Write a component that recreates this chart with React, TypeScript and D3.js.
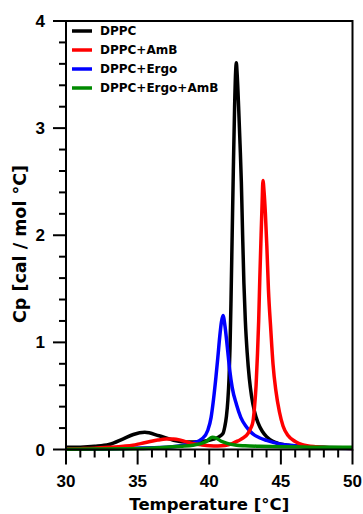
import React from "react";
import * as d3 from "d3";

// ---- data ----
const dppcT = [30, 31, 32, 33, 34, 34.7, 35.5, 36.5, 37.5, 38.5, 39.5, 40.3, 40.7, 40.96, 41.08, 41.2, 41.3, 41.38, 41.45, 41.52, 41.6, 41.68, 41.77, 41.84, 41.89, 41.95, 42.05, 42.15, 42.24, 42.33, 42.42, 42.52, 42.65, 42.8, 42.95, 43.15, 43.4, 43.7, 44.0, 44.4, 44.8, 45.5, 46.5, 48, 50];
const dppcCp = [0.02, 0.022, 0.03, 0.047, 0.1, 0.14, 0.16, 0.128, 0.087, 0.07, 0.075, 0.096, 0.12, 0.15, 0.21, 0.31, 0.46, 0.66, 0.95, 1.4, 2.0, 2.6, 3.2, 3.52, 3.61, 3.5, 3.2, 2.85, 2.5, 2.0, 1.55, 1.2, 0.9, 0.66, 0.5, 0.36, 0.25, 0.17, 0.12, 0.08, 0.058, 0.04, 0.028, 0.02, 0.015];

const ambT = [30, 31, 32, 33, 34, 34.67, 35.2, 35.8, 36.4, 37.0, 37.5, 37.93, 38.4, 38.86, 39.5, 40.03, 40.6, 41.1, 41.6, 42.0, 42.4, 42.7, 42.9, 43.05, 43.15, 43.27, 43.37, 43.45, 43.53, 43.62, 43.69, 43.75, 43.83, 43.92, 44.02, 44.13, 44.3, 44.45, 44.65, 44.9, 45.15, 45.5, 46.0, 46.5, 47.5, 48.5, 50];
const ambCp = [0.005, 0.008, 0.012, 0.02, 0.03, 0.04, 0.055, 0.072, 0.088, 0.097, 0.097, 0.09, 0.072, 0.055, 0.042, 0.035, 0.033, 0.037, 0.055, 0.08, 0.11, 0.15, 0.2, 0.26, 0.38, 0.6, 0.9, 1.2, 1.6, 2.0, 2.3, 2.51, 2.4, 2.2, 1.9, 1.5, 1.11, 0.8, 0.55, 0.35, 0.22, 0.13, 0.075, 0.045, 0.025, 0.016, 0.01];

const ergoT = [30, 32, 34, 36.5, 38, 38.8, 39.5, 39.9, 40.13, 40.3, 40.47, 40.6, 40.73, 40.85, 40.96, 41.1, 41.25, 41.43, 41.6, 41.9, 42.2, 42.6, 43.0, 43.5, 44.0, 45.0, 45.8, 47, 50];
const ergoCp = [0.003, 0.005, 0.01, 0.018, 0.035, 0.058, 0.1, 0.18, 0.3, 0.47, 0.68, 0.86, 1.05, 1.19, 1.25, 1.15, 0.97, 0.74, 0.58, 0.42, 0.3, 0.21, 0.15, 0.11, 0.085, 0.05, 0.038, 0.024, 0.01];

const ergoAmbT = [30, 32, 34.2, 36.5, 38, 38.86, 39.4, 39.8, 40.2, 40.5, 40.8, 41.2, 41.9, 42.5, 43.5, 45, 47, 50];
const ergoAmbCp = [0.003, 0.004, 0.006, 0.016, 0.03, 0.04, 0.055, 0.075, 0.115, 0.105, 0.08, 0.06, 0.04, 0.035, 0.03, 0.025, 0.022, 0.02];

const seriesNames = ["DPPC", "DPPC+AmB", "DPPC+Ergo", "DPPC+Ergo+AmB"];
const seriesColors = ["#000000", "#ff0000", "#0000ff", "#008a00"];

const xTickLabels = [30, 35, 40, 45, 50];
const yTickLabels = [0, 1, 2, 3, 4];

const W = 363;
const H = 514;
const L = 66, R = 352.5, T = 21, B = 449.5;

export default function App() {
  const x = d3.scaleLinear().domain([30, 50]).range([L, R]);
  const y = d3.scaleLinear().domain([0, 4]).range([B, T]);
  const line = d3
    .line<[number, number]>()
    .x((d) => x(d[0]))
    .y((d) => y(d[1]))
    .curve(d3.curveMonotoneX);

  const series = [
    { name: seriesNames[0], color: seriesColors[0], t: dppcT, v: dppcCp },
    { name: seriesNames[1], color: seriesColors[1], t: ambT, v: ambCp },
    { name: seriesNames[2], color: seriesColors[2], t: ergoT, v: ergoCp },
    { name: seriesNames[3], color: seriesColors[3], t: ergoAmbT, v: ergoAmbCp },
  ];
  const drawOrder = [0, 2, 1, 3];

  const xMinor = d3.range(30, 50.001, 1).filter((v) => !xTickLabels.includes(v));
  const yMinor = d3.range(0, 4.001, 0.2).map((v) => +v.toFixed(1)).filter((v) => !yTickLabels.includes(v));

  const tickFont = "'Liberation Sans', Arial, sans-serif";
  const textFont = "'DejaVu Sans', sans-serif";

  return (
    <svg width={W} height={H} style={{ position: "absolute", left: 0, top: 0, background: "#fff" }}>
      {/* curves */}
      {drawOrder.map((i) => {
        const s = series[i];
        const pts = s.t.map((t, k) => [t, s.v[k]] as [number, number]);
        return (
          <path key={s.name} d={line(pts) || ""} fill="none" stroke={s.color} strokeWidth={3.5} strokeLinejoin="round" />
        );
      })}

      {/* frame */}
      <rect x={L} y={T} width={R - L} height={B - T} fill="none" stroke="#000" strokeWidth={2} />

      {/* y ticks */}
      {yTickLabels.map((v) => (
        <g key={"ym" + v}>
          <line x1={L - 13} x2={L} y1={y(v)} y2={y(v)} stroke="#000" strokeWidth={2} />
          <text x={45} y={y(v)} dy="0.36em" textAnchor="end" fontFamily={tickFont} fontWeight="bold" fontSize={17}>
            {v}
          </text>
        </g>
      ))}
      {yMinor.map((v) => (
        <line key={"yn" + v} x1={L - 7} x2={L} y1={y(v)} y2={y(v)} stroke="#000" strokeWidth={2} />
      ))}

      {/* x ticks */}
      {xTickLabels.map((v) => (
        <g key={"xm" + v}>
          <line x1={x(v)} x2={x(v)} y1={B} y2={B + 15} stroke="#000" strokeWidth={2} />
          <text x={x(v)} y={487} textAnchor="middle" fontFamily={tickFont} fontWeight="bold" fontSize={17}>
            {v}
          </text>
        </g>
      ))}
      {xMinor.map((v) => (
        <line key={"xn" + v} x1={x(v)} x2={x(v)} y1={B} y2={B + 8} stroke="#000" strokeWidth={2} />
      ))}

      {/* axis titles */}
      <text x={(L + R) / 2} y={510} textAnchor="middle" fontFamily={textFont} fontWeight="bold" fontSize={16.5}>
        Temperature [°C]
      </text>
      <text
        transform={`translate(26, ${244}) rotate(-90)`}
        textAnchor="middle"
        fontFamily={textFont}
        fontWeight="bold"
        fontSize={17.5}
      >
        Cp [cal / mol °C]
      </text>

      {/* legend */}
      {series.map((s, i) => (
        <g key={"lg" + i} transform={`translate(0, ${31 + i * 19})`}>
          <line x1={72} x2={92} y1={0} y2={0} stroke={s.color} strokeWidth={3.5} />
          <text x={100} y={0} dy="0.36em" fontFamily={textFont} fontWeight="bold" fontSize={12}>
            {s.name}
          </text>
        </g>
      ))}
    </svg>
  );
}
